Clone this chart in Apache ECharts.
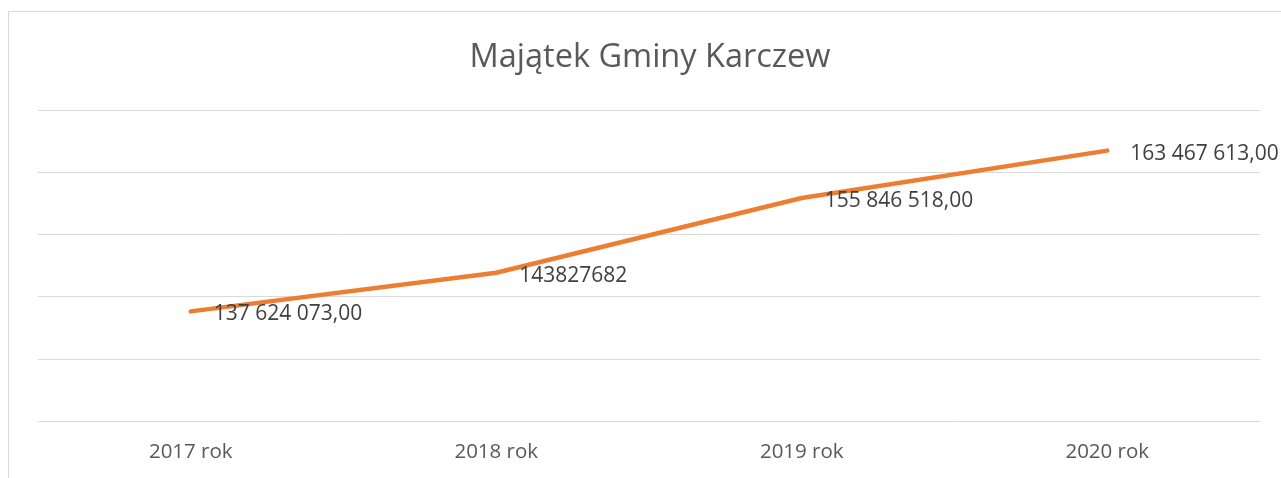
<!DOCTYPE html>
<html>
<head>
<meta charset="utf-8">
<script src="https://cdn.jsdelivr.net/npm/echarts@6/dist/echarts.min.js"></script>
<style>
html,body{margin:0;padding:0;background:#fff;}
#c{width:1281px;height:478px;}
</style>
</head>
<body>
<div id="c"></div>
<script>
var categories = ['2017 rok', '2018 rok', '2019 rok', '2020 rok'];
var values = [137624073, 143827682, 155846518, 163467613];
var valueLabels = ['137 624 073,00', '143827682', '155 846 518,00', '163 467 613,00'];
var yTicks = [120000000, 130000000, 140000000, 150000000, 160000000, 170000000];

var FONT = 'Open Sans';
var chart = echarts.init(document.getElementById('c'));
chart.setOption({
  animation: false,
  backgroundColor: '#ffffff',
  title: {
    text: 'Majątek Gminy Karczew',
    left: 645,
    top: 36,
    textAlign: 'center',
    textStyle: { fontFamily: FONT, fontSize: 32.5, fontWeight: 'normal', color: '#595959' }
  },
  graphic: [{
    type: 'rect',
    shape: { x: 8.5, y: 11.5, width: 1400, height: 600 },
    style: { fill: 'none', stroke: '#d9d9d9', lineWidth: 1 },
    silent: true
  }],
  grid: { left: 38, right: 21, top: 110, bottom: 57 },
  xAxis: {
    type: 'category',
    data: categories,
    boundaryGap: true,
    axisLine: { show: true, lineStyle: { color: '#d9d9d9', width: 1 } },
    axisTick: { show: false },
    axisLabel: { fontFamily: FONT, fontSize: 20.5, color: '#595959', margin: 21 }
  },
  yAxis: {
    type: 'value',
    min: yTicks[0],
    max: yTicks[yTicks.length - 1],
    interval: yTicks[1] - yTicks[0],
    axisLine: { show: false },
    axisTick: { show: false },
    axisLabel: { show: false },
    splitLine: { show: true, lineStyle: { color: '#d9d9d9', width: 1 } }
  },
  series: [{
    type: 'line',
    data: values,
    symbol: 'circle',
    symbolSize: 0,
    showSymbol: true,
    lineStyle: { color: '#ED7D31', width: 4.5, cap: 'round', join: 'round' },
    itemStyle: { color: '#ED7D31' },
    label: {
      show: true,
      position: 'right',
      distance: 23,
      offset: [0, 3],
      fontFamily: FONT,
      fontSize: 21,
      color: '#404040',
      formatter: function (p) { return valueLabels[p.dataIndex]; }
    }
  }]
});
</script>
</body>
</html>
